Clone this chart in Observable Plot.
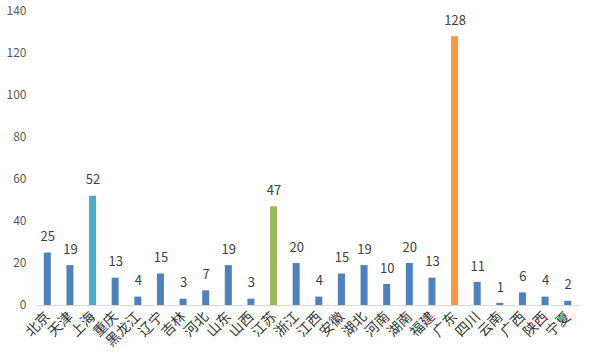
<!DOCTYPE html>
<html><head><meta charset="utf-8">
<script src="https://cdn.jsdelivr.net/npm/d3@7"></script>
<script src="https://cdn.jsdelivr.net/npm/@observablehq/plot@0.6"></script>
<style>
html,body{margin:0;padding:0;background:#fff;}
#chart{width:591px;height:360px;}
</style>
</head><body><div id="chart"></div>
<script>
const regions = ["北京","天津","上海","重庆","黑龙江","辽宁","吉林","河北","山东","山西","江苏","浙江","江西","安徽","湖北","河南","湖南","福建","广东","四川","云南","广西","陕西","宁夏"];
const counts = [25,19,52,13,4,15,3,7,19,3,47,20,4,15,19,10,20,13,128,11,1,6,4,2];
const highlight = {"上海":"#4BACC6","江苏":"#9BBB59","广东":"#F79646"};
const baseColor = "#4F81BD";
const yTicks = [0,20,40,60,80,100,120,140];

const data = regions.map((r,i)=>({region:r, value:counts[i], color: highlight[r] || baseColor}));

const chart = Plot.plot({
  width: 591,
  height: 360,
  marginLeft: 36,
  marginRight: 12,
  marginTop: 11,
  marginBottom: 55,
  style: {fontFamily: "'Noto Sans CJK SC', 'Noto Sans', sans-serif", background: "#fff"},
  x: {domain: regions, paddingInner: 0.69, paddingOuter: 0.345, round: false, label: null},
  y: {domain: [0,140], label: null},
  marks: [
    Plot.barY(data, {x: "region", y: "value", fill: d => d.color}),
    Plot.ruleY([0], {stroke: "#d9d9d9", strokeWidth: 1}),
    Plot.text(data, {x: "region", y: "value", text: d => String(d.value), dy: -16, fontSize: 13, fill: "#404040"}),
    Plot.axisY({ticks: yTicks, tickSize: 0, tickPadding: 10, fontSize: 12, color: "#595959", label: null}),
    Plot.axisX({tickSize: 0, tickPadding: 9, tickRotate: -45, fontSize: 14, color: "#333", label: null})
  ]
});
document.getElementById("chart").appendChild(chart);
</script>
</body></html>
